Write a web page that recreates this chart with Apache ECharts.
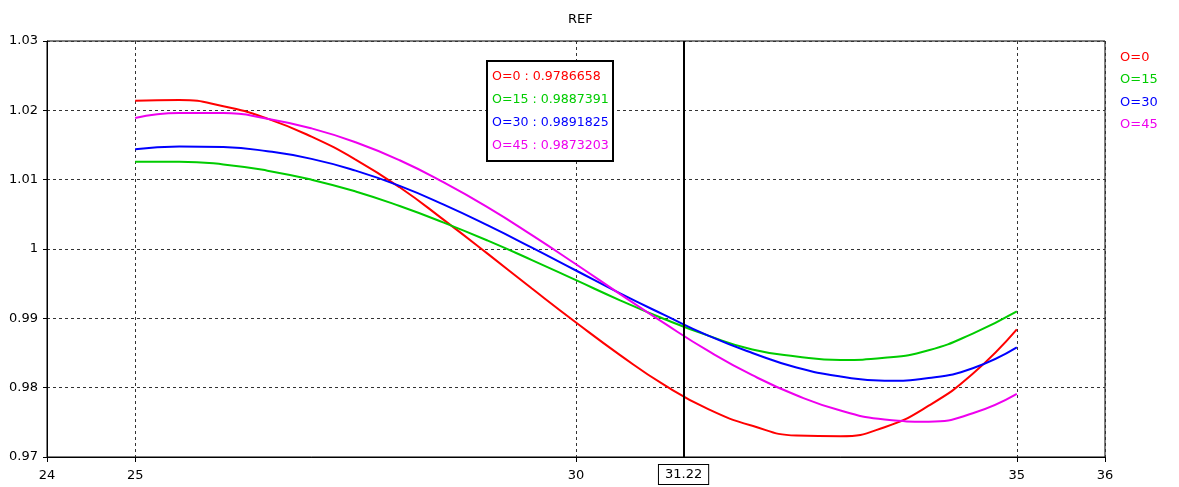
<!DOCTYPE html>
<html>
<head>
<meta charset="utf-8">
<script src="https://cdn.jsdelivr.net/npm/echarts@6/dist/echarts.min.js"></script>
<style>html,body{margin:0;padding:0;background:#fff}#c{width:1179px;height:487px}</style>
</head>
<body>
<div id="c"></div>
<script>
const xs = [25,25.5,26,26.5,27,27.5,28,28.5,29,29.5,30,30.5,31,31.5,32,32.5,33,33.5,34,34.5,35];
const seriesNames = ['O=0','O=15','O=30','O=45'];
const o0  = [1.0214,1.0215,1.0206,1.0188,1.0162,1.0129,1.0089,1.0042,0.9993,0.9943,0.9894,0.9847,0.9804,0.9769,0.9745,0.9731,0.9730,0.9743,0.9774,0.9820,0.9884];
const o15 = [1.0126,1.0126,1.0122,1.0113,1.0100,1.0083,1.0062,1.0038,1.0012,0.9984,0.9955,0.9926,0.9899,0.9875,0.9855,0.9845,0.9840,0.9843,0.9854,0.9878,0.9910];
const o30 = [1.0144,1.0148,1.0147,1.0141,1.0130,1.0113,1.0091,1.0064,1.0034,1.0002,0.9969,0.9936,0.9905,0.9875,0.9850,0.9829,0.9816,0.9810,0.9814,0.9828,0.9858];
const o45 = [1.0189,1.0196,1.0196,1.0188,1.0174,1.0154,1.0128,1.0096,1.0060,1.0020,0.9978,0.9935,0.9893,0.9853,0.9818,0.9789,0.9767,0.9754,0.9751,0.9763,0.9791];
const cursorX = 31.22;
const cursorValues = ['0.9786658','0.9887391','0.9891825','0.9873203'];
const xTickValues = [24,25,30,35,36];
const colors = ['#ff0000','#00cc00','#0000ff','#ee00ee'];

const allVals = [o0,o15,o30,o45];
const font = '"DejaVu Sans", Verdana, sans-serif';
const chart = echarts.init(document.getElementById('c'), null, {renderer:'canvas'});

const series = allVals.map((vals, i) => ({
  name: seriesNames[i],
  type: 'line',
  smooth: 0.5,
  symbol: 'none',
  lineStyle: {color: colors[i], width: 2},
  itemStyle: {color: colors[i]},
  data: xs.map((x, j) => [x, vals[j]]),
  z: 3
}));
series[0].markLine = {
  silent: true,
  symbol: ['none','none'],
  lineStyle: {color:'#000', width: 2, type:'solid'},
  label: {
    show: true, position: 'start', distance: 8,
    formatter: String(cursorX),
    color: '#000', fontSize: 13, fontFamily: font,
    backgroundColor: '#fff', borderColor: '#000', borderWidth: 1,
    padding: [3, 6, 3, 6]
  },
  data: [[{coord:[cursorX, 0.97]}, {coord:[cursorX, 1.03]}]],
  z: 5
};

const rich = {};
colors.forEach((c, i) => { rich['s'+i] = {color: c, fontSize: 12.6, fontWeight: 'normal', fontFamily: font, lineHeight: 23}; });
const boxText = seriesNames.map((n, i) => '{s'+i+'|' + n + ' : ' + cursorValues[i] + '}').join('\n');

chart.setOption({
  animation: false,
  backgroundColor: '#fff',
  title: [{
    text: 'REF', left: 563, top: 8,
    textStyle: {fontSize: 13, fontWeight: 'normal', color: '#000', fontFamily: font}
  }, {
    text: boxText, left: 487, top: 56,
    backgroundColor: '#fff', borderColor: '#000', borderWidth: 2,
    padding: [9, 4, 9, 5],
    textStyle: {rich: rich, fontSize: 12.6, fontWeight: 'normal', fontFamily: font}
  }],
  legend: {
    orient: 'vertical', left: 1110, top: 46, icon: 'none',
    itemWidth: 0, itemHeight: 0, itemGap: 9.5,
    selectedMode: false,
    textStyle: {fontSize: 13, fontFamily: font},
    data: seriesNames.map((n, i) => ({name: n, textStyle: {color: colors[i]}}))
  },
  grid: {left: 47, right: 74, top: 41, bottom: 30, show: true, borderColor: '#000', borderWidth: 1, backgroundColor: 'transparent'},
  xAxis: {
    type: 'value', min: 24, max: 36, interval: 1,
    axisLine: {show: true, lineStyle: {color: '#000', width: 1}},
    axisTick: {show: true, length: 5, customValues: xTickValues, lineStyle: {color:'#000'}},
    axisLabel: {customValues: xTickValues, color: '#000', fontSize: 13, fontFamily: font, margin: 12},
    splitLine: {show: true, lineStyle: {color: '#333', type: [3, 3], width: 1}}
  },
  yAxis: {
    type: 'value', min: 0.97, max: 1.03, interval: 0.01,
    axisLine: {show: true, lineStyle: {color: '#000', width: 1}},
    axisTick: {show: true, length: 4, lineStyle: {color:'#000'}},
    axisLabel: {color: '#000', fontSize: 13, fontFamily: font, margin: 9,
      formatter: v => String(parseFloat(v.toFixed(4)))},
    splitLine: {show: true, lineStyle: {color: '#333', type: [3, 3], width: 1}}
  },
  series: series
});
</script>
</body>
</html>
